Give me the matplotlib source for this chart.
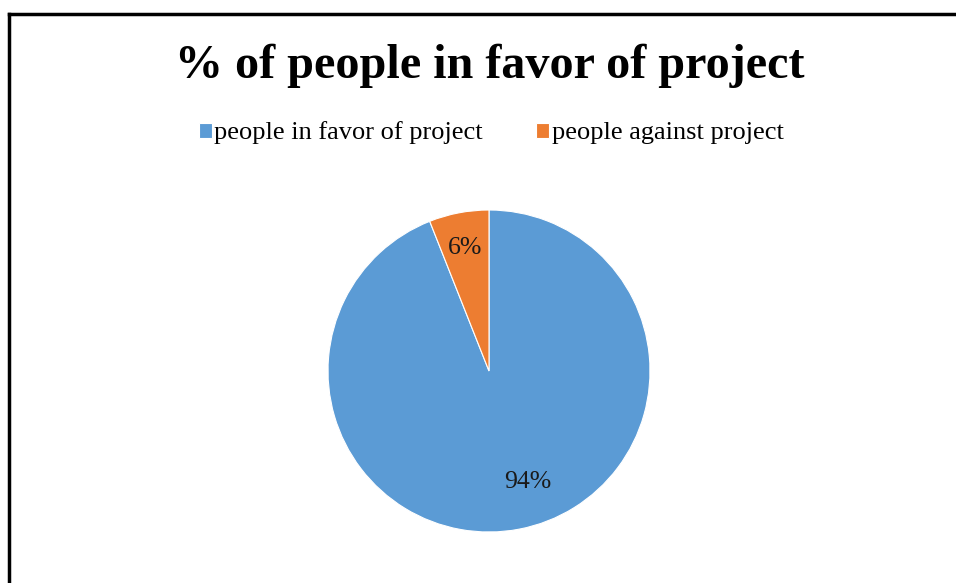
import matplotlib.pyplot as plt
from matplotlib.lines import Line2D

labels = ["people in favor of project", "people against project"]
values = [94, 6]
colors = ["#5B9BD5", "#ED7D31"]
title = "% of people in favor of project"

plt.rcParams["font.family"] = ["Liberation Serif", "DejaVu Serif"]

W, H = 956, 583
fig = plt.figure(figsize=(W / 100, H / 100), dpi=100)

# frame: only top and left edges visible
fig.add_artist(Line2D([8.5 / W, 1], [1 - 14 / H, 1 - 14 / H], color="black", lw=2.5))
fig.add_artist(Line2D([8.5 / W, 8.5 / W], [0, 1 - 14 / H], color="black", lw=2.5))

# pie: center (489, 371), radius 161 px
cx, cy, r = 489, 371, 161
ax = fig.add_axes([(cx - r) / W, 1 - (cy + r) / H, 2 * r / W, 2 * r / H])
wedges, _, autotexts = ax.pie(
    values,
    colors=colors,
    startangle=90,
    counterclock=False,
    autopct=lambda p: f"{p:.0f}%",
    pctdistance=0.78,
    wedgeprops=dict(edgecolor="white", linewidth=0.8),
    textprops=dict(fontsize=18.5, color="#1a1a1a"),
)
ax.set_xlim(-1, 1)
ax.set_ylim(-1, 1)
ax.set_aspect("equal")
# Excel-style placement of the big slice label
autotexts[0].set_position((0.24, -0.69))

fig.text(490 / W, 1 - 66 / H, title, ha="center", va="center",
         fontsize=34.7, fontweight="bold")

fig.legend(wedges, labels, loc="center", bbox_to_anchor=(491 / W, 1 - 133 / H),
           ncol=2, frameon=False, fontsize=19, handlelength=0.5, handleheight=0.5,
           handletextpad=0.1, columnspacing=2.0, borderpad=0, borderaxespad=0)

fig.savefig("out.png", dpi=100)
